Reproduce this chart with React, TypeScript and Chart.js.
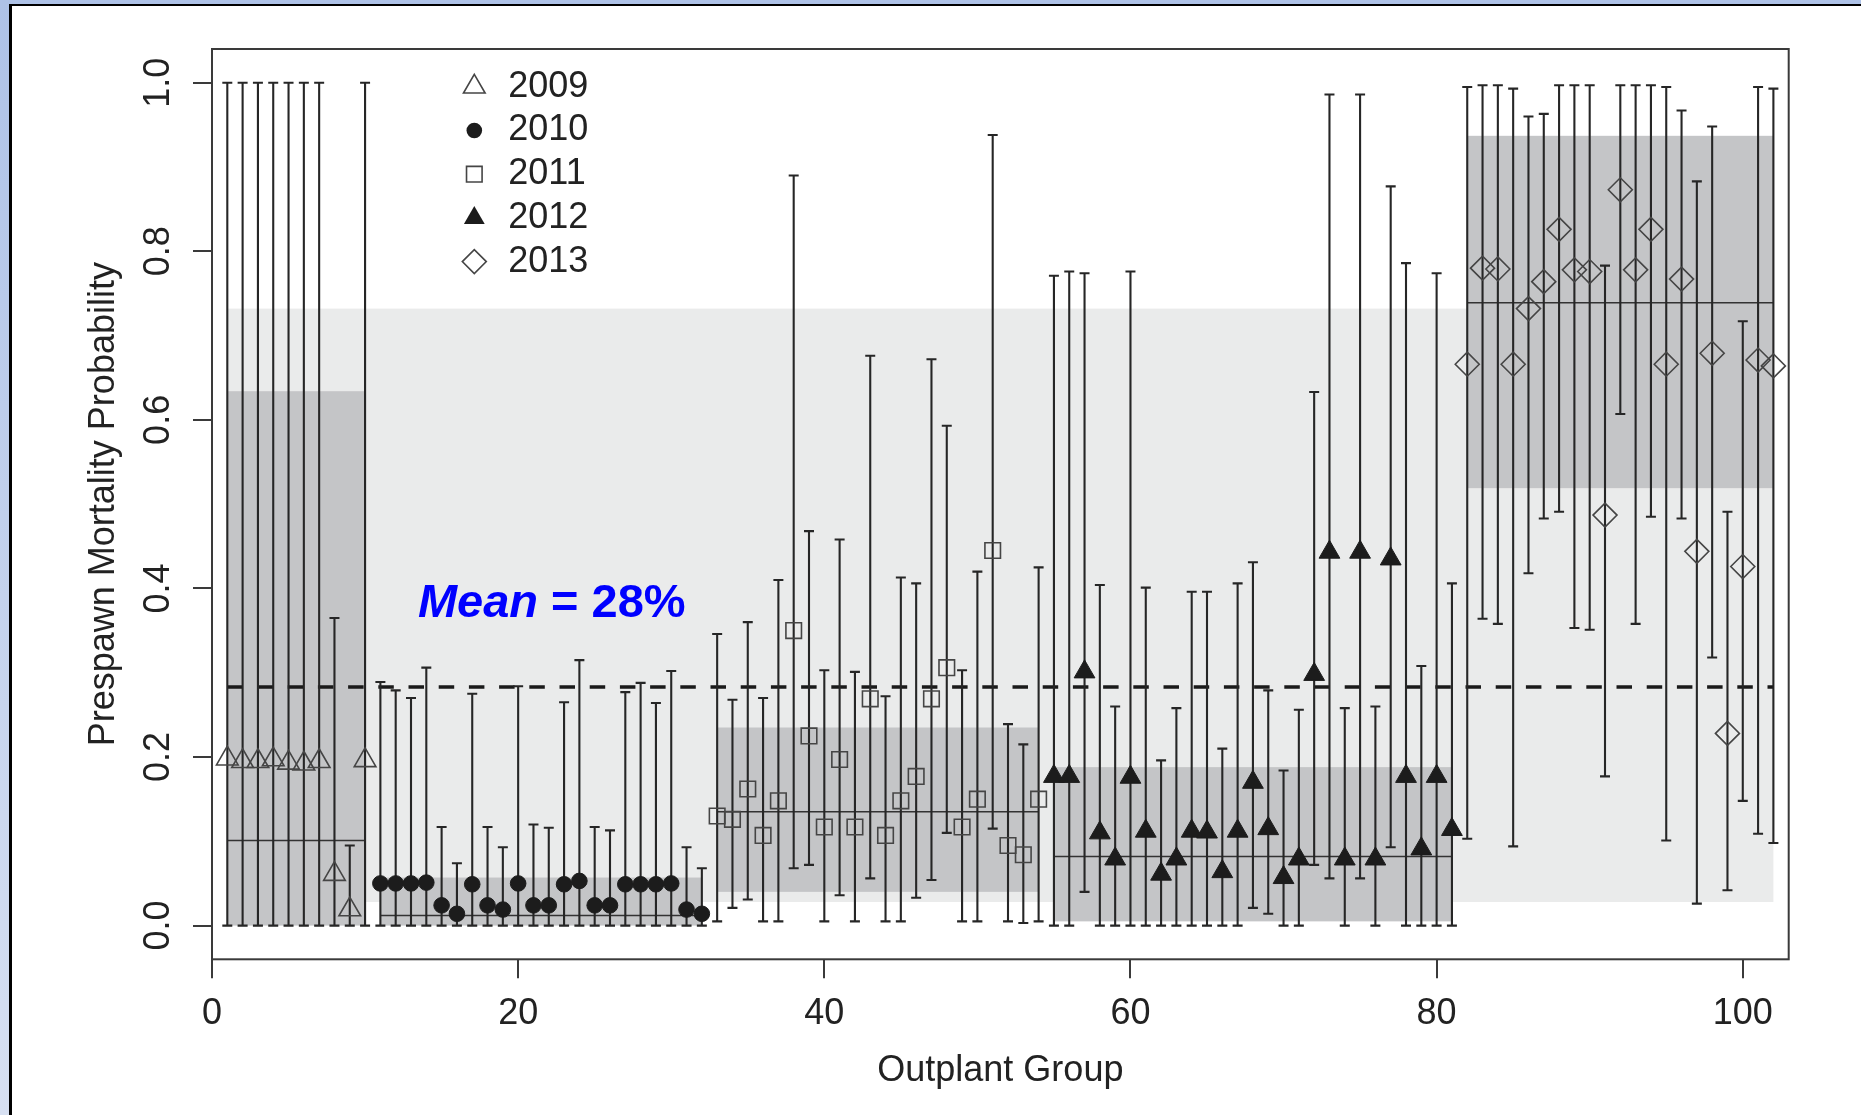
import React, { useEffect, useRef } from "react";
import { Chart, registerables } from "chart.js";

Chart.register(...registerables);

// ---------- data ----------
const X_TICKS = [0, 20, 40, 60, 80, 100];
const Y_TICKS = [0, 0.2, 0.4, 0.6, 0.8, 1.0];

const YEARS = ["2009", "2010", "2011", "2012", "2013"];
const GROUP_START = [1, 11, 33, 55, 82];

const V2009 = [0.198, 0.195, 0.195, 0.197, 0.193, 0.192, 0.195, 0.061, 0.019, 0.196];
const LO2009 = [0, 0, 0, 0, 0, 0, 0, 0, 0, 0];
const HI2009 = [1.0, 1.0, 1.0, 1.0, 1.0, 1.0, 1.0, 0.365, 0.095, 1.0];

const V2010 = [0.05, 0.05, 0.05, 0.051, 0.024, 0.014, 0.049, 0.024, 0.019, 0.05, 0.024, 0.024, 0.049, 0.053, 0.024, 0.024, 0.049, 0.049, 0.049, 0.05, 0.019, 0.014];
const LO2010 = [0, 0, 0, 0, 0, 0, 0, 0, 0, 0, 0, 0, 0, 0, 0, 0, 0, 0, 0, 0, 0, 0];
const HI2010 = [0.289, 0.279, 0.27, 0.306, 0.117, 0.074, 0.275, 0.117, 0.093, 0.284, 0.12, 0.116, 0.265, 0.315, 0.117, 0.113, 0.277, 0.288, 0.264, 0.302, 0.093, 0.068];

const V2011 = [0.13, 0.126, 0.162, 0.107, 0.148, 0.35, 0.225, 0.117, 0.197, 0.117, 0.269, 0.107, 0.148, 0.177, 0.269, 0.306, 0.117, 0.15, 0.445, 0.095, 0.084, 0.15];
const LO2011 = [0.005, 0.021, 0.031, 0.005, 0.005, 0.068, 0.072, 0.005, 0.036, 0.005, 0.056, 0.005, 0.005, 0.033, 0.054, 0.11, 0.005, 0.005, 0.115, 0.005, 0.003, 0.005];
const HI2011 = [0.346, 0.268, 0.36, 0.27, 0.41, 0.89, 0.468, 0.303, 0.458, 0.301, 0.676, 0.272, 0.413, 0.406, 0.672, 0.593, 0.303, 0.42, 0.938, 0.239, 0.215, 0.425];

const V2012 = [0.177, 0.177, 0.301, 0.11, 0.079, 0.176, 0.112, 0.061, 0.079, 0.112, 0.111, 0.064, 0.112, 0.17, 0.115, 0.057, 0.079, 0.298, 0.443, 0.079, 0.443, 0.079, 0.435, 0.177, 0.091, 0.177, 0.114];
const LO2012 = [0, 0, 0.04, 0, 0, 0, 0, 0, 0, 0, 0, 0, 0, 0.021, 0.014, 0, 0, 0.072, 0.056, 0, 0.056, 0, 0.093, 0, 0, 0, 0];
const HI2012 = [0.771, 0.776, 0.774, 0.404, 0.26, 0.776, 0.401, 0.196, 0.258, 0.396, 0.396, 0.21, 0.406, 0.431, 0.279, 0.184, 0.256, 0.633, 0.986, 0.258, 0.986, 0.26, 0.877, 0.786, 0.308, 0.774, 0.406];

const V2013 = [0.666, 0.78, 0.779, 0.666, 0.732, 0.764, 0.826, 0.778, 0.776, 0.487, 0.873, 0.778, 0.826, 0.666, 0.767, 0.444, 0.679, 0.228, 0.426, 0.671, 0.664];
const LO2013 = [0.103, 0.364, 0.358, 0.094, 0.418, 0.483, 0.491, 0.353, 0.351, 0.177, 0.607, 0.358, 0.485, 0.101, 0.483, 0.026, 0.318, 0.042, 0.148, 0.109, 0.098];
const HI2013 = [0.995, 0.997, 0.997, 0.993, 0.96, 0.963, 0.997, 0.997, 0.997, 0.783, 0.997, 0.997, 0.997, 0.995, 0.967, 0.883, 0.948, 0.491, 0.717, 0.995, 0.993];

// yearly credible bands and means
const BAND_LOW = [0.0, 0.0, 0.04, 0.005, 0.519];
const BAND_HIGH = [0.634, 0.057, 0.235, 0.188, 0.937];
const BAND_MEAN = [0.101, 0.012, 0.135, 0.082, 0.739];

// overall band and mean
const OVERALL_LOW = 0.028;
const OVERALL_HIGH = 0.732;
const OVERALL_MEAN = 0.283;

const MEAN_WORD = "Mean";
const MEAN_REST = " = 28%";
const MEAN_ANCHOR = { x: 13.45, y: 0.366 };

// ---------- styles ----------
const FONT = '"Liberation Sans", Arial, Helvetica, sans-serif';
const MARKERS = [
  { style: "triangle", r: 12.5, filled: false },
  { style: "circle", r: 7.8, filled: true },
  { style: "rect", r: 11, filled: false },
  { style: "triangle", r: 12, filled: true },
  { style: "rectRot", r: 12, filled: false },
];
const OPEN_COLOR = "#454545";
const FILL_COLOR = "#1c1c1c";
const LIGHT_BAND = "#eaebeb";
const DARK_BAND = "#c4c5c7";

const VALUES = [V2009, V2010, V2011, V2012, V2013];
const LOWS = [LO2009, LO2010, LO2011, LO2012, LO2013];
const HIGHS = [HI2009, HI2010, HI2011, HI2012, HI2013];

function markerPath(ctx: CanvasRenderingContext2D, style: string, x: number, y: number, r: number) {
  ctx.beginPath();
  if (style === "circle") {
    ctx.arc(x, y, r, 0, Math.PI * 2);
  } else if (style === "triangle") {
    let rad = 0;
    ctx.moveTo(x + Math.sin(rad) * r, y - Math.cos(rad) * r);
    rad += (2 * Math.PI) / 3;
    ctx.lineTo(x + Math.sin(rad) * r, y - Math.cos(rad) * r);
    rad += (2 * Math.PI) / 3;
    ctx.lineTo(x + Math.sin(rad) * r, y - Math.cos(rad) * r);
    ctx.closePath();
  } else if (style === "rect") {
    const s = r * Math.SQRT1_2;
    ctx.rect(x - s, y - s, 2 * s, 2 * s);
  } else {
    ctx.moveTo(x - r, y);
    ctx.lineTo(x, y - r);
    ctx.lineTo(x + r, y);
    ctx.lineTo(x, y + r);
    ctx.closePath();
  }
}

const decorPlugin = {
  id: "decor",
  beforeDatasetsDraw(chart: any) {
    const { ctx, chartArea, scales } = chart;
    const xs = scales.x;
    const ys = scales.y;
    ctx.save();
    ctx.beginPath();
    ctx.rect(chartArea.left, chartArea.top, chartArea.right - chartArea.left, chartArea.bottom - chartArea.top);
    ctx.clip();

    const firstX = GROUP_START[0];
    const lastX = GROUP_START[4] + V2013.length - 1;

    // overall light band
    ctx.fillStyle = LIGHT_BAND;
    {
      const x0 = xs.getPixelForValue(firstX);
      const x1 = xs.getPixelForValue(lastX);
      const y0 = ys.getPixelForValue(OVERALL_HIGH);
      const y1 = ys.getPixelForValue(OVERALL_LOW);
      ctx.fillRect(x0, y0, x1 - x0, y1 - y0);
    }
    // yearly dark bands
    ctx.fillStyle = DARK_BAND;
    for (let g = 0; g < 5; g++) {
      const s = GROUP_START[g];
      const e = s + VALUES[g].length - 1;
      const x0 = xs.getPixelForValue(s);
      const x1 = xs.getPixelForValue(e);
      const y0 = ys.getPixelForValue(BAND_HIGH[g]);
      const y1 = ys.getPixelForValue(BAND_LOW[g]);
      ctx.fillRect(x0, y0, x1 - x0, y1 - y0);
    }
    // yearly mean lines
    ctx.strokeStyle = "#333333";
    ctx.lineWidth = 1.4;
    for (let g = 0; g < 5; g++) {
      const s = GROUP_START[g];
      const e = s + VALUES[g].length - 1;
      const yy = ys.getPixelForValue(BAND_MEAN[g]);
      ctx.beginPath();
      ctx.moveTo(xs.getPixelForValue(s), yy);
      ctx.lineTo(xs.getPixelForValue(e), yy);
      ctx.stroke();
    }
    // overall mean dashed line
    ctx.strokeStyle = "#1a1a1a";
    ctx.lineWidth = 3.4;
    ctx.setLineDash([15.5, 14.7]);
    {
      const yy = ys.getPixelForValue(OVERALL_MEAN);
      ctx.beginPath();
      ctx.moveTo(xs.getPixelForValue(firstX), yy);
      ctx.lineTo(xs.getPixelForValue(lastX), yy);
      ctx.stroke();
    }
    ctx.setLineDash([]);
    // error bars
    ctx.strokeStyle = "#262626";
    ctx.lineWidth = 2.1;
    for (let g = 0; g < 5; g++) {
      const vals = VALUES[g];
      for (let i = 0; i < vals.length; i++) {
        const px = xs.getPixelForValue(GROUP_START[g] + i);
        const pLo = ys.getPixelForValue(LOWS[g][i]);
        const pHi = ys.getPixelForValue(HIGHS[g][i]);
        ctx.beginPath();
        ctx.moveTo(px, pLo);
        ctx.lineTo(px, pHi);
        ctx.moveTo(px - 5, pLo);
        ctx.lineTo(px + 5, pLo);
        ctx.moveTo(px - 5, pHi);
        ctx.lineTo(px + 5, pHi);
        ctx.stroke();
      }
    }
    ctx.restore();
  },
  afterDraw(chart: any) {
    const { ctx, chartArea, scales } = chart;
    ctx.save();
    // box
    ctx.strokeStyle = "#3a3a3a";
    ctx.lineWidth = 2;
    ctx.strokeRect(chartArea.left, chartArea.top, chartArea.right - chartArea.left, chartArea.bottom - chartArea.top);

    // legend
    const symX = chartArea.left + 262.3;
    const textX = chartArea.left + 296.3;
    const rowY0 = chartArea.top + 37.8;
    const rowGap = 43.7;
    ctx.font = `36px ${FONT}`;
    ctx.textBaseline = "middle";
    ctx.textAlign = "left";
    for (let g = 0; g < 5; g++) {
      const m = MARKERS[g];
      const yy = rowY0 + g * rowGap;
      markerPath(ctx, m.style, symX, yy, m.r);
      if (m.filled) {
        ctx.fillStyle = FILL_COLOR;
        ctx.fill();
      } else {
        ctx.strokeStyle = OPEN_COLOR;
        ctx.lineWidth = 1.6;
        ctx.stroke();
      }
      ctx.fillStyle = "#222222";
      ctx.fillText(YEARS[g], textX, yy);
    }

    // Mean annotation
    const ax = scales.x.getPixelForValue(MEAN_ANCHOR.x);
    const ay = scales.y.getPixelForValue(MEAN_ANCHOR.y);
    ctx.fillStyle = "#0000ff";
    ctx.textBaseline = "alphabetic";
    ctx.font = `italic bold 47px ${FONT}`;
    ctx.fillText(MEAN_WORD, ax, ay);
    const w = ctx.measureText(MEAN_WORD).width;
    ctx.font = `bold 47px ${FONT}`;
    ctx.fillText(MEAN_REST, ax + w, ay);
    ctx.restore();
  },
};

export default function App() {
  const canvasRef = useRef<HTMLCanvasElement | null>(null);

  useEffect(() => {
    document.body.style.margin = "0";
    const canvas = canvasRef.current;
    if (!canvas) return;

    const datasets = YEARS.map((year, g) => {
      const m = MARKERS[g];
      return {
        label: year,
        data: VALUES[g].map((v, i) => ({ x: GROUP_START[g] + i, y: v })),
        pointStyle: m.style,
        pointRadius: m.r,
        pointHoverRadius: m.r,
        pointBorderWidth: m.filled ? 1 : 1.6,
        pointBorderColor: m.filled ? FILL_COLOR : OPEN_COLOR,
        pointBackgroundColor: m.filled ? FILL_COLOR : "rgba(0,0,0,0)",
        showLine: false,
      };
    });

    const tickFont = { family: FONT, size: 36 };
    const chart = new Chart(canvas, {
      type: "scatter",
      data: { datasets: datasets as any },
      options: {
        responsive: false,
        maintainAspectRatio: false,
        animation: false,
        events: [],
        layout: { padding: { left: 0, top: 49, right: 72.3, bottom: 0 } },
        plugins: { legend: { display: false }, tooltip: { enabled: false } },
        scales: {
          x: {
            type: "linear",
            position: "bottom",
            min: 0,
            max: 103,
            afterBuildTicks: (axis: any) => {
              axis.ticks = X_TICKS.map((v) => ({ value: v }));
            },
            afterFit: (axis: any) => {
              axis.height = 155.7;
            },
            grid: { display: true, drawOnChartArea: false, drawTicks: true, tickLength: 19, color: "#3a3a3a", lineWidth: 2 },
            border: { display: false },
            ticks: {
              font: tickFont,
              color: "#222222",
              padding: 13.8,
              maxRotation: 0,
              autoSkip: false,
              callback: (v: any) => String(v),
            },
            title: {
              display: true,
              text: "Outplant Group",
              font: tickFont,
              color: "#222222",
              padding: { top: 0, bottom: 21.9 },
            },
          },
          y: {
            type: "linear",
            position: "left",
            min: -0.04,
            max: 1.04,
            afterBuildTicks: (axis: any) => {
              axis.ticks = Y_TICKS.map((v) => ({ value: v }));
            },
            afterFit: (axis: any) => {
              axis.width = 212;
            },
            grid: { display: true, drawOnChartArea: false, drawTicks: true, tickLength: 19, color: "#3a3a3a", lineWidth: 2 },
            border: { display: false },
            ticks: {
              font: tickFont,
              color: "#222222",
              padding: 8.7,
              minRotation: 90,
              maxRotation: 90,
              crossAlign: "center",
              autoSkip: false,
              callback: (v: any) => Number(v).toFixed(1),
            },
            title: {
              display: true,
              text: "Prespawn Mortality Probability",
              font: tickFont,
              color: "#222222",
              padding: { top: 82.9, bottom: 0 },
            },
          },
        },
      } as any,
      plugins: [decorPlugin],
    });
    return () => chart.destroy();
  }, []);

  return (
    <div
      style={{
        position: "absolute",
        left: 0,
        top: 0,
        width: 1861,
        height: 1115,
        overflow: "hidden",
        background: "linear-gradient(to bottom, #aec2e7, #d7e0f2)",
      }}
    >
      <div style={{ position: "absolute", left: 9, top: 4, right: 0, bottom: 0, background: "#000" }} />
      <div style={{ position: "absolute", left: 11.5, top: 6, right: 0, bottom: 0, background: "#fff" }} />
      <canvas
        ref={canvasRef}
        width={1861}
        height={1115}
        style={{ position: "absolute", left: 0, top: 0, width: 1861, height: 1115 }}
      />
    </div>
  );
}
